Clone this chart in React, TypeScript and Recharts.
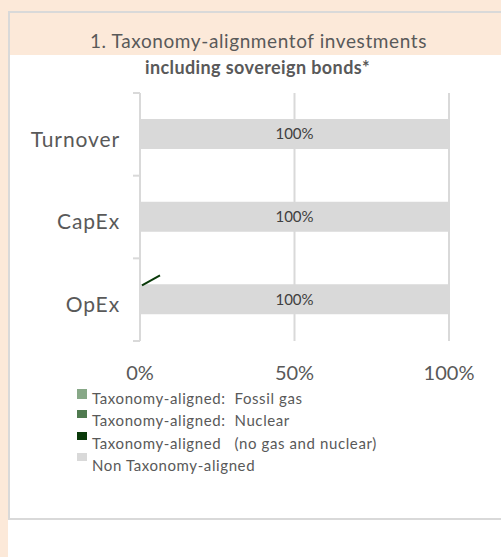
import React from 'react';
import { BarChart, Bar, XAxis, YAxis, CartesianGrid, LabelList } from 'recharts';

const categories = ['Turnover', 'CapEx', 'OpEx'];
const fossilGas = [0, 0, 0];
const nuclear = [0, 0, 0];
const alignedOther = [0, 0, 0];
const nonAligned = [100, 100, 100];
const xTicks = [0, 50, 100];

const seriesNames = [
  'Taxonomy-aligned:  Fossil gas',
  'Taxonomy-aligned:  Nuclear',
  'Taxonomy-aligned   (no gas and nuclear)',
  'Non Taxonomy-aligned',
];
const seriesColors = ['#87a887', '#4f7a4f', '#0a3a0a', '#d9d9d9'];

const data = categories.map((name, i) => ({
  name,
  fossil: fossilGas[i],
  nuclear: nuclear[i],
  aligned: alignedOther[i],
  non: nonAligned[i],
}));

const PEACH = '#fce9d9';
const GRID = '#d9d9d9';
const TEXT = '#595959';
const FONT = 'Lato, "Open Sans", sans-serif';

const PLOT_H = 248;

// Excel style: tick marks sit between categories, not on them
const CategoryTick = (props: any) => {
  const { x, y, payload, index, visibleTicksCount } = props;
  const axisX = x + 20;
  const half = PLOT_H / categories.length / 2;
  return (
    <g>
      <line x1={axisX - 7} x2={axisX} y1={y - half} y2={y - half} stroke={GRID} strokeWidth={2} />
      {index === visibleTicksCount - 1 && (
        <line x1={axisX - 7} x2={axisX} y1={y + half} y2={y + half} stroke={GRID} strokeWidth={2} />
      )}
      <text
        x={x}
        y={y + 5}
        dy="0.355em"
        textAnchor="end"
        fill={TEXT}
        fontSize={21}
        letterSpacing={0.9}
        fontFamily={FONT}
      >
        {payload.value}
      </text>
    </g>
  );
};

// stray leader line left over at the start of the OpEx bar
const LeaderLine = (props: any) => {
  const { x, y, index } = props;
  if (index !== 2) return null;
  return <line x1={x + 2} y1={y + 1} x2={x + 20} y2={y - 9} stroke={seriesColors[2]} strokeWidth={2} />;
};

export default function App() {
  return (
    <div style={{ position: 'absolute', left: 0, top: 0, width: 501, height: 557, background: '#fff', overflow: 'hidden', fontFamily: FONT }}>
      <div style={{ position: 'absolute', left: 0, top: 0, width: 8, height: 557, background: PEACH }} />
      <div style={{ position: 'absolute', left: 0, top: 0, width: 501, height: 11, background: PEACH }} />
      <div
        style={{
          position: 'absolute',
          left: 8,
          top: 11,
          width: 510,
          height: 505,
          borderTop: `2px solid ${GRID}`,
          borderLeft: `2px solid ${GRID}`,
          borderBottom: `2px solid ${GRID}`,
        }}
      />
      <div style={{ position: 'absolute', left: 10, top: 13, width: 491, height: 42, background: PEACH }} />
      <div
        style={{
          position: 'absolute',
          left: 10,
          width: 497,
          top: 29,
          textAlign: 'center',
          fontSize: 19,
          letterSpacing: 0.6,
          lineHeight: '24px',
          color: TEXT,
        }}
      >
        1. Taxonomy-alignmentof investments
      </div>
      <div
        style={{
          position: 'absolute',
          left: 10,
          width: 495,
          top: 56,
          textAlign: 'center',
          fontSize: 18,
          fontWeight: 700,
          letterSpacing: 0.4,
          lineHeight: '22px',
          color: TEXT,
        }}
      >
        including sovereign bonds*
      </div>

      <div style={{ position: 'absolute', left: 0, top: 0 }}>
        <BarChart
          width={501}
          height={557}
          data={data}
          layout="vertical"
          margin={{ top: 93, right: 52, left: 8, bottom: 186 }}
          barSize={30}
        >
          <CartesianGrid horizontal={false} stroke={GRID} strokeWidth={2} />
          <XAxis
            type="number"
            domain={[0, 100]}
            ticks={xTicks}
            height={30}
            axisLine={false}
            tickLine={false}
            tickSize={0}
            tickMargin={25}
            tickFormatter={(v: number) => `${v}%`}
            tick={{ fill: TEXT, fontSize: 20, fontFamily: FONT }}
          />
          <YAxis
            type="category"
            dataKey="name"
            width={132}
            axisLine={{ stroke: GRID, strokeWidth: 2 }}
            tickLine={false}
            tickSize={0}
            tickMargin={20}
            tick={<CategoryTick />}
          />
          <Bar dataKey="fossil" stackId="a" fill={seriesColors[0]} isAnimationActive={false} />
          <Bar dataKey="nuclear" stackId="a" fill={seriesColors[1]} isAnimationActive={false} />
          <Bar dataKey="aligned" stackId="a" fill={seriesColors[2]} isAnimationActive={false} />
          <Bar dataKey="non" stackId="a" fill={seriesColors[3]} isAnimationActive={false}>
            <LabelList
              dataKey="non"
              position="center"
              formatter={(v: any) => `${v}%`}
              fill="#404040"
              fontSize={15}
              fontFamily={FONT}
            />
            <LabelList dataKey="aligned" content={<LeaderLine />} />
          </Bar>
        </BarChart>
      </div>

      {seriesNames.map((name, i) => (
        <div key={name} style={{ position: 'absolute', left: 77, top: 389 + i * 21.3 }}>
          <div style={{ position: 'absolute', left: 0, top: 0, width: 10, height: i === 0 ? 10 : 8, background: seriesColors[i] }} />
          <div
            style={{
              position: 'absolute',
              left: 15,
              top: 0 + i * 1.2,
              whiteSpace: 'pre',
              fontSize: 15,
              letterSpacing: 0.6,
              lineHeight: '18px',
              color: TEXT,
            }}
          >
            {name}
          </div>
        </div>
      ))}
    </div>
  );
}
